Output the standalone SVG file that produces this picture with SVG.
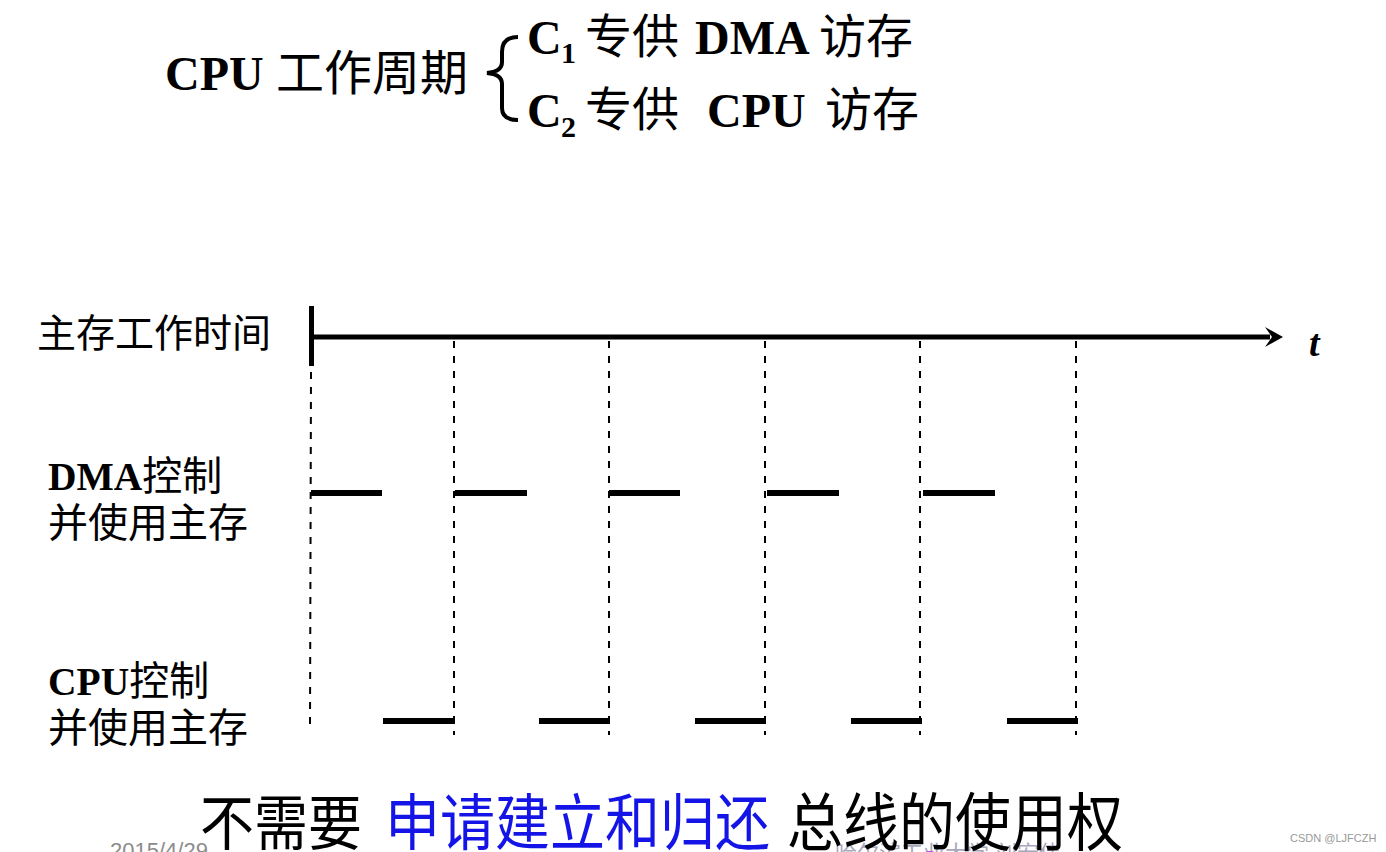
<svg xmlns="http://www.w3.org/2000/svg" width="1386" height="852" viewBox="0 0 1386 852">
<style>
.ser{font-family:"Liberation Serif","Noto Sans CJK SC",serif;fill:#000}
.b{font-weight:bold}
.cjk{font-family:"Noto Sans CJK SC",sans-serif;fill:#000}
.dash{stroke:#000;stroke-width:2;stroke-dasharray:7 8;fill:none}
.bar{fill:#000}
.foot{font-family:"Liberation Sans","Noto Sans CJK SC",sans-serif}
</style>
<rect width="1386" height="852" fill="#fff"/>

<g id="title">
  <text class="ser" font-size="48" y="90"><tspan x="165" class="b">CPU</tspan><tspan x="276" class="cjk" font-size="48">工作周期</tspan></text>
  <path d="M518 37 C507 37 502 42 502 52 L502 62 C502 68 498 72 487 73 C498 74 502 78 502 84 L502 108 C502 116 507 120 518 120" fill="none" stroke="#000" stroke-width="4"/>
  <text class="ser b" font-size="48" x="527" y="54">C</text>
  <text class="ser b" font-size="30" x="561" y="63">1</text>
  <text class="cjk" font-size="47" x="585" y="53">专供</text>
  <text class="ser b" font-size="48" x="695" y="54">DMA</text>
  <text class="cjk" font-size="47" x="819" y="53">访存</text>
  <text class="ser b" font-size="48" x="527" y="127">C</text>
  <text class="ser b" font-size="30" x="561" y="137">2</text>
  <text class="cjk" font-size="47" x="585" y="126">专供</text>
  <text class="ser b" font-size="48" x="707" y="127">CPU</text>
  <text class="cjk" font-size="47" x="825" y="126">访存</text>
</g>

<g id="axis">
  <text class="cjk" font-size="39" x="37" y="347">主存工作时间</text>
  <rect x="309" y="306" width="5" height="60" fill="#000"/>
  <line x1="313" y1="337" x2="1270" y2="337" stroke="#000" stroke-width="5"/>
  <polygon points="1283,337 1265,327 1272,337 1265,347" fill="#000"/>
  <text class="ser b" font-style="italic" font-size="38" x="1309" y="356">t</text>
</g>

<g id="labels">
  <text class="ser" font-size="39.5" x="48" y="490"><tspan class="b">DMA</tspan><tspan class="cjk" font-size="40">控制</tspan></text>
  <text class="cjk" font-size="40" x="48" y="537">并使用主存</text>
  <text class="ser" font-size="39.5" x="48" y="695"><tspan class="b">CPU</tspan><tspan class="cjk" font-size="40">控制</tspan></text>
  <text class="cjk" font-size="40" x="48" y="742">并使用主存</text>
</g>

<g id="connectors">
  <line class="dash" x1="311" y1="372" x2="310" y2="730"/>
  <line class="dash" x1="454" y1="341" x2="454" y2="735"/>
  <line class="dash" x1="609" y1="341" x2="609" y2="735"/>
  <line class="dash" x1="765" y1="341" x2="765" y2="735"/>
  <line class="dash" x1="920" y1="341" x2="920" y2="735"/>
  <line class="dash" x1="1076" y1="341" x2="1076" y2="735"/>
</g>

<g id="dma-bars">
  <rect class="bar" x="311" y="490" width="71" height="6"/>
  <rect class="bar" x="455" y="490" width="72" height="6"/>
  <rect class="bar" x="609" y="490" width="71" height="6"/>
  <rect class="bar" x="767" y="490" width="72" height="6"/>
  <rect class="bar" x="923" y="490" width="72" height="6"/>
</g>

<g id="cpu-bars">
  <rect class="bar" x="383" y="718" width="72" height="6"/>
  <rect class="bar" x="539" y="718" width="71" height="6"/>
  <rect class="bar" x="695" y="718" width="71" height="6"/>
  <rect class="bar" x="851" y="718" width="71" height="6"/>
  <rect class="bar" x="1007" y="718" width="71" height="6"/>
</g>

<g id="footer">
  <text class="foot" font-size="22" x="110" y="858" fill="#8c8c8c">2015/4/29</text>
  <text class="foot" font-size="22" x="835" y="861" fill="#a8a8bc">哈尔滨工业大学 刘宏伟</text>
  <ellipse cx="930" cy="857" rx="8" ry="6" fill="#c040e8"/>
  <g transform="translate(0,845) scale(1,1.12)">
    <text class="cjk" font-size="54" y="0"><tspan x="200">不需要</tspan><tspan x="385" font-size="55" fill="#1414e6">申请建立和归还</tspan><tspan x="787" font-size="56">总线的使用权</tspan></text>
  </g>
  <text class="foot" font-size="11" x="1290" y="842" fill="#999">CSDN @LJFCZH</text>
</g>
</svg>
